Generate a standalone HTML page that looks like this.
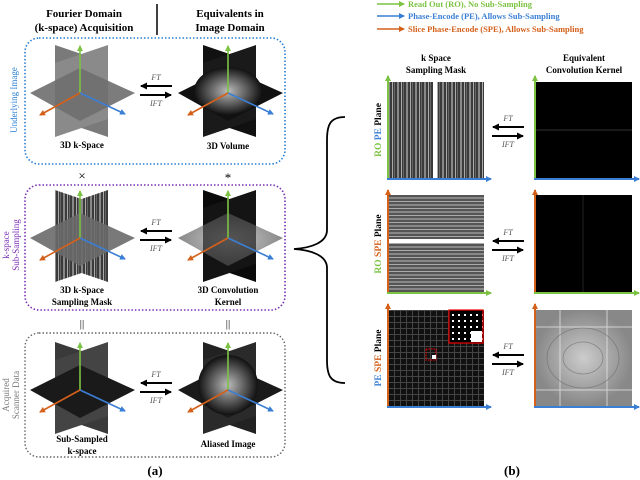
<!DOCTYPE html>
<html><head><meta charset="utf-8"><style>html,body{margin:0;padding:0;background:#fff}svg{display:block}</style></head>
<body>
<svg width="640" height="480" viewBox="0 0 640 480" xmlns="http://www.w3.org/2000/svg" font-family="Liberation Serif, serif">
<defs>
<marker id="ag" markerWidth="6" markerHeight="6" refX="5" refY="3" orient="auto" markerUnits="userSpaceOnUse"><path d="M0,0 L6,3 L0,6z" fill="#7cc243"/></marker>
<marker id="ab" markerWidth="6" markerHeight="6" refX="5" refY="3" orient="auto" markerUnits="userSpaceOnUse"><path d="M0,0 L6,3 L0,6z" fill="#3a7fd5"/></marker>
<marker id="ao" markerWidth="6" markerHeight="6" refX="5" refY="3" orient="auto" markerUnits="userSpaceOnUse"><path d="M0,0 L6,3 L0,6z" fill="#d4601a"/></marker>
<marker id="ak" markerWidth="7" markerHeight="7" refX="6" refY="3.5" orient="auto" markerUnits="userSpaceOnUse"><path d="M0,0 L7,3.5 L0,7z" fill="#000"/></marker>
<pattern id="vs" width="9" height="10" patternUnits="userSpaceOnUse"><rect width="9" height="10" fill="#3a3a3a"/><rect x="1" width="2" height="10" fill="#888"/><rect x="5" width="1" height="10" fill="#aaa"/><rect x="7" width="1" height="10" fill="#666"/></pattern>
<pattern id="hs" width="10" height="7" patternUnits="userSpaceOnUse"><rect width="10" height="7" fill="#555"/><rect y="1" width="10" height="2" fill="#888"/><rect y="5" width="10" height="1" fill="#aaa"/></pattern>
<pattern id="gr" width="6" height="6" patternUnits="userSpaceOnUse"><rect width="6" height="6" fill="#111"/><rect x="4" width="1" height="6" fill="#444"/><rect y="4" width="6" height="1" fill="#444"/></pattern>
<pattern id="dt" width="6" height="6" patternUnits="userSpaceOnUse"><rect width="6" height="6" fill="#000"/><rect x="2" y="2" width="2" height="2" fill="#fff"/></pattern>
<radialGradient id="kg"><stop offset="0" stop-color="#ccc"/><stop offset="1" stop-color="#888"/></radialGradient>
<radialGradient id="vg"><stop offset="0" stop-color="#bbb"/><stop offset="0.6" stop-color="#555"/><stop offset="1" stop-color="#111"/></radialGradient>
</defs>

<g font-weight="bold" font-size="11" text-anchor="middle">
<text x="84" y="17">Fourier Domain</text><text x="84" y="31">(k-space) Acquisition</text>
<text x="230" y="17">Equivalents in</text><text x="230" y="31">Image Domain</text>
</g>
<line x1="157" y1="4" x2="157" y2="35" stroke="#000" stroke-width="1.5"/>

<rect x="25" y="38" width="260" height="126" rx="14" fill="none" stroke="#2a7fd4" stroke-width="1.6" stroke-dasharray="1.5,2"/>
<rect x="25" y="185" width="260" height="125" rx="14" fill="none" stroke="#7a2fb5" stroke-width="1.6" stroke-dasharray="1.5,2"/>
<rect x="25" y="333" width="260" height="124" rx="14" fill="none" stroke="#666" stroke-width="1.4" stroke-dasharray="1.5,2"/>

<g font-size="9" text-anchor="middle">
<text transform="translate(17,100) rotate(-90)" fill="#2a7fd4">Underlying Image</text>
<text transform="translate(9,245) rotate(-90)" fill="#7a2fb5">k-space</text>
<text transform="translate(19,245) rotate(-90)" fill="#7a2fb5">Sub-Sampling</text>
<text transform="translate(9,395) rotate(-90)" fill="#777">Acquired</text>
<text transform="translate(19,395) rotate(-90)" fill="#777">Scanner Data</text>
</g>

<g transform="translate(80,93)">
<polygon points="-25,-48 28,-30 28,44 -25,26" fill="#7a7a7a"/><polygon points="28,-48 -25,-30 -25,44 28,26" fill="#8a8a8a"/>
<polygon points="-50,0 0,-25 55,0 0,28" fill="#6e6e6e" opacity="0.9"/>
</g>
<g transform="translate(228,93)">
<polygon points="-25,-48 28,-30 28,44 -25,26" fill="#111"/><polygon points="28,-48 -25,-30 -25,44 28,26" fill="#1a1a1a"/>
<polygon points="-50,0 0,-25 55,0 0,28" fill="#111"/><ellipse cx="0" cy="-2" rx="34" ry="24" fill="url(#vg)"/>
</g>
<g transform="translate(80,238)">
<polygon points="-25,-48 28,-30 28,44 -25,26" fill="url(#vs)"/><polygon points="28,-48 -25,-30 -25,44 28,26" fill="url(#vs)"/>
<polygon points="-50,0 0,-25 55,0 0,28" fill="#6a6a6a" opacity="0.9"/>
</g>
<g transform="translate(228,238)">
<polygon points="-50,0 0,-25 55,0 0,28" fill="url(#kg)"/>
<polygon points="-25,-48 28,-30 28,44 -25,26" fill="#0a0a0a"/><polygon points="28,-48 -25,-30 -25,44 28,26" fill="#141414"/>
<polygon points="-50,0 0,-25 55,0 0,28" fill="url(#kg)" opacity="0.35"/>
</g>
<g transform="translate(80,390)">
<polygon points="-25,-48 28,-30 28,44 -25,26" fill="#3a3a3a"/><polygon points="28,-48 -25,-30 -25,44 28,26" fill="#444"/>
<polygon points="-50,0 0,-25 55,0 0,28" fill="#1a1a1a"/>
</g>
<g transform="translate(228,390)">
<polygon points="-25,-48 28,-30 28,44 -25,26" fill="#222"/><polygon points="28,-48 -25,-30 -25,44 28,26" fill="#2a2a2a"/>
<polygon points="-50,0 0,-25 55,0 0,28" fill="#1a1a1a"/><ellipse cx="0" cy="-5" rx="30" ry="30" fill="url(#vg)"/>
</g>
<g stroke-width="1.6">
<g id="ax1"><line x1="80" y1="93" x2="80" y2="46" stroke="#7cc243" marker-end="url(#ag)"/><line x1="80" y1="93" x2="125" y2="114" stroke="#3a7fd5" marker-end="url(#ab)"/><line x1="80" y1="93" x2="40" y2="115" stroke="#d4601a" marker-end="url(#ao)"/></g>
<use href="#ax1" x="148"/><use href="#ax1" y="145"/><use href="#ax1" x="148" y="145"/><use href="#ax1" y="297"/><use href="#ax1" x="148" y="297"/>
</g>

<g id="ft">
<line x1="172" y1="86" x2="141" y2="86" stroke="#000" stroke-width="2" marker-end="url(#ak)"/>
<line x1="140" y1="95" x2="171" y2="95" stroke="#000" stroke-width="2" marker-end="url(#ak)"/>
<text x="156" y="80" font-size="8" font-style="italic" fill="#555" text-anchor="middle">FT</text>
<text x="156" y="106" font-size="8" font-style="italic" fill="#555" text-anchor="middle">IFT</text>
</g>
<use href="#ft" y="145"/><use href="#ft" y="297"/>

<g font-size="9" font-weight="bold" text-anchor="middle">
<text x="82" y="148">3D k-Space</text><text x="228" y="149">3D Volume</text>
<text x="82" y="293">3D k-Space</text><text x="82" y="305">Sampling Mask</text>
<text x="228" y="293">3D Convolution</text><text x="228" y="305">Kernel</text>
<text x="82" y="442">Sub-Sampled</text><text x="82" y="454">k-space</text>
<text x="228" y="447">Aliased Image</text>
</g>
<g font-size="13" text-anchor="middle"><text x="82" y="180">×</text><text x="228" y="182">*</text>
<text x="82" y="327" font-size="11">||</text><text x="228" y="327" font-size="11">||</text></g>
<text x="155" y="475" font-size="13" font-weight="bold" text-anchor="middle">(a)</text>

<path d="M345,117 C330,117 327,125 327,140 L327,230 C327,243 310,248 294,249 C310,250 327,255 327,268 L327,360 C327,375 330,383 345,383" fill="none" stroke="#000" stroke-width="1.8"/>

<g stroke-width="1.5">
<line x1="377" y1="4" x2="404" y2="4" stroke="#7cc243" marker-end="url(#ag)"/>
<line x1="377" y1="16" x2="404" y2="16" stroke="#3a7fd5" marker-end="url(#ab)"/>
<line x1="377" y1="29" x2="404" y2="29" stroke="#d4601a" marker-end="url(#ao)"/>
</g>
<g font-size="8.5" font-weight="bold">
<text x="408" y="7" fill="#7cc243">Read Out (RO), No Sub-Sampling</text>
<text x="408" y="19" fill="#3a7fd5">Phase-Encode (PE), Allows Sub-Sampling</text>
<text x="408" y="32" fill="#d4601a">Slice Phase-Encode (SPE), Allows Sub-Sampling</text>
</g>
<g font-size="9" font-weight="bold" text-anchor="middle">
<text x="436" y="61">k Space</text><text x="436" y="73">Sampling Mask</text>
<text x="584" y="61">Equivalent</text><text x="584" y="73">Convolution Kernel</text>
</g>

<rect x="388" y="82" width="96" height="96" fill="url(#vs)"/><rect x="433" y="82" width="4" height="96" fill="#fff"/>
<rect x="535" y="82" width="97" height="96" fill="#000"/><line x1="535" y1="130" x2="632" y2="130" stroke="#333" stroke-width="1"/>
<rect x="388" y="195" width="96" height="98" fill="url(#hs)"/><rect x="388" y="239" width="96" height="4" fill="#fff"/>
<rect x="535" y="195" width="97" height="98" fill="#000"/><line x1="583" y1="195" x2="583" y2="293" stroke="#222"/>
<rect x="388" y="310" width="96" height="96" fill="url(#gr)"/>
<rect x="449" y="310" width="34" height="33" fill="url(#dt)" stroke="#e00" stroke-width="1.2"/><rect x="471" y="331" width="11" height="11" fill="#fff"/>
<rect x="426" y="349" width="10" height="11" fill="none" stroke="#e00" stroke-dasharray="1.5,1"/><rect x="432" y="355" width="4" height="4" fill="#fff"/>
<rect x="535" y="310" width="97" height="96" fill="url(#kg)"/>
<g stroke="#eee" stroke-width="1" opacity="0.7"><line x1="535" y1="327" x2="632" y2="327"/><line x1="535" y1="390" x2="632" y2="390"/><line x1="560" y1="310" x2="560" y2="406"/><line x1="607" y1="310" x2="607" y2="406"/></g>
<g fill="none" stroke="#666" stroke-width="0.8" opacity="0.6"><ellipse cx="583" cy="358" rx="20" ry="16"/><ellipse cx="583" cy="358" rx="36" ry="30"/></g>

<g stroke-width="2">
<line x1="388" y1="179" x2="388" y2="76" stroke="#7cc243" marker-end="url(#ag)"/><line x1="387" y1="179" x2="491" y2="179" stroke="#3a7fd5" marker-end="url(#ab)"/>
<line x1="535" y1="179" x2="535" y2="76" stroke="#7cc243" marker-end="url(#ag)"/><line x1="534" y1="179" x2="639" y2="179" stroke="#3a7fd5" marker-end="url(#ab)"/>
<line x1="388" y1="293" x2="388" y2="190" stroke="#d4601a" marker-end="url(#ao)"/><line x1="387" y1="293" x2="491" y2="293" stroke="#7cc243" marker-end="url(#ag)"/>
<line x1="535" y1="293" x2="535" y2="190" stroke="#d4601a" marker-end="url(#ao)"/><line x1="534" y1="293" x2="639" y2="293" stroke="#7cc243" marker-end="url(#ag)"/>
<line x1="388" y1="407" x2="388" y2="304" stroke="#d4601a" marker-end="url(#ao)"/><line x1="387" y1="407" x2="491" y2="407" stroke="#3a7fd5" marker-end="url(#ab)"/>
<line x1="535" y1="407" x2="535" y2="304" stroke="#d4601a" marker-end="url(#ao)"/><line x1="534" y1="407" x2="639" y2="407" stroke="#3a7fd5" marker-end="url(#ab)"/>
</g>
<g font-size="9.5" font-weight="bold">
<text transform="translate(381,130) rotate(-90)" text-anchor="middle"><tspan fill="#7cc243">RO</tspan> <tspan fill="#3a7fd5">PE</tspan> Plane</text>
<text transform="translate(381,244) rotate(-90)" text-anchor="middle"><tspan fill="#7cc243">RO</tspan> <tspan fill="#d4601a">SPE</tspan> Plane</text>
<text transform="translate(381,358) rotate(-90)" text-anchor="middle"><tspan fill="#3a7fd5">PE</tspan> <tspan fill="#d4601a">SPE</tspan> Plane</text>
</g>
<use href="#ft" x="352" y="41"/><use href="#ft" x="352" y="155"/><use href="#ft" x="352" y="269"/>
<text x="512" y="475" font-size="13" font-weight="bold" text-anchor="middle">(b)</text>
</svg>
</body></html>
